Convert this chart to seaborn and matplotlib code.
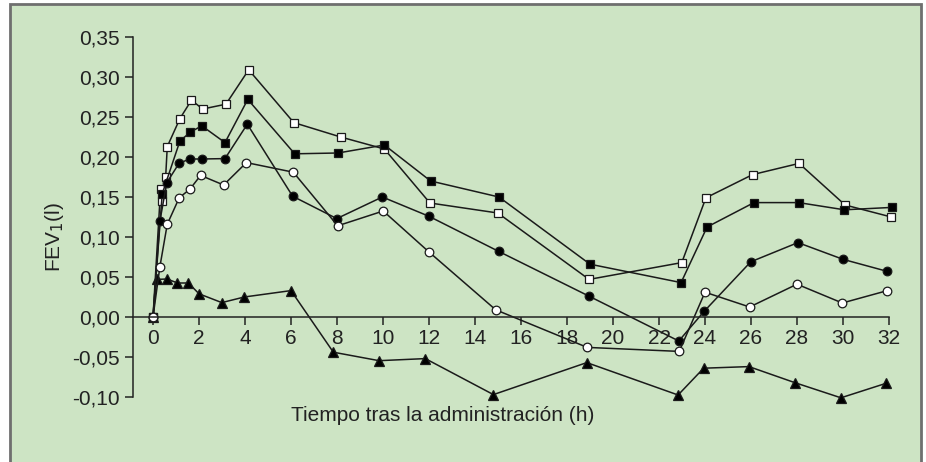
import numpy as np
import pandas as pd
import matplotlib
matplotlib.use("Agg")
from matplotlib import pyplot as plt
from matplotlib.patches import Rectangle
import seaborn as sns

# data (hours, FEV1 change in litres)
x_open_sq = [0, 0.33, 0.38, 0.55, 0.62, 1.17, 1.67, 2.16, 3.17, 4.16, 6.12, 8.16, 10.06, 12.04, 14.99, 18.96, 22.99, 24.04, 26.07, 28.09, 30.09, 32.1]
y_open_sq = [0, 0.160, 0.145, 0.175, 0.213, 0.248, 0.271, 0.260, 0.266, 0.309, 0.243, 0.225, 0.210, 0.1425, 0.130, 0.047, 0.068, 0.149, 0.178, 0.192, 0.140, 0.125]

x_fill_sq = [0, 0.40, 1.17, 1.62, 2.12, 3.13, 4.12, 6.16, 8.04, 10.06, 12.07, 15.04, 19.0, 22.96, 24.09, 26.13, 28.07, 30.06, 32.13]
y_fill_sq = [0, 0.154, 0.220, 0.231, 0.239, 0.218, 0.272, 0.204, 0.205, 0.215, 0.170, 0.150, 0.066, 0.043, 0.1125, 0.143, 0.143, 0.134, 0.137]

x_fill_ci = [0, 0.30, 0.60, 1.13, 1.59, 2.12, 3.13, 4.10, 6.07, 7.99, 9.97, 11.99, 15.03, 18.96, 22.86, 23.96, 25.99, 28.04, 30.01, 31.93]
y_fill_ci = [0, 0.120, 0.168, 0.192, 0.1975, 0.1975, 0.198, 0.241, 0.151, 0.123, 0.150, 0.126, 0.082, 0.026, -0.030, 0.007, 0.069, 0.093, 0.072, 0.057]

x_open_ci = [0, 0.30, 0.62, 1.14, 1.61, 2.07, 3.07, 4.06, 6.10, 8.03, 10.01, 12.01, 14.90, 18.88, 22.88, 24.0, 25.94, 28.0, 29.97, 31.93]
y_open_ci = [0, 0.063, 0.116, 0.149, 0.160, 0.177, 0.165, 0.193, 0.181, 0.114, 0.1325, 0.081, 0.009, -0.038, -0.043, 0.031, 0.0125, 0.041, 0.0175, 0.033]

x_tri = [0, 0.16, 0.62, 1.06, 1.54, 2.0, 2.99, 3.97, 6.0, 7.84, 9.83, 11.84, 14.8, 18.86, 22.83, 23.94, 25.91, 27.9, 29.91, 31.86]
y_tri = [0, 0.047, 0.0475, 0.0425, 0.0425, 0.029, 0.018, 0.025, 0.033, -0.044, -0.0546, -0.052, -0.097, -0.057, -0.0975, -0.064, -0.062, -0.082, -0.101, -0.083]

x_ticks = list(range(0, 33, 2))
y_ticks = [-0.10, -0.05, 0.00, 0.05, 0.10, 0.15, 0.20, 0.25, 0.30, 0.35]

plt.rcParams['font.family'] = ['Liberation Sans', 'DejaVu Sans']
txt = '#222222'
fs = 15

fig = plt.figure(figsize=(9.26, 4.62), dpi=100)
fig.patch.set_facecolor('white')
# green panel with grey border, kept behind the axes
fig.patches.append(Rectangle((10/926, -0.05), 911/926, 1.05 - 4/462, transform=fig.transFigure,
                             facecolor='#cde4c4', edgecolor='#6f6f6f', linewidth=2, zorder=-10))

ax = fig.add_axes([133/926, 1 - 397/462, 756/926, 360/462])
ax.set_facecolor('none')
ax.set_zorder(5)

# triangles first so the circles sit on top at the origin
series = [
    (x_tri, y_tri, '^', 'black', 6.5),
    (x_open_sq, y_open_sq, 's', 'white', 5.2),
    (x_fill_sq, y_fill_sq, 's', 'black', 5.2),
    (x_fill_ci, y_fill_ci, 'o', 'black', 6.2),
    (x_open_ci, y_open_ci, 'o', 'white', 6.2),
]
for xs, ys, mk, fc, ms in series:
    d = pd.DataFrame({'t': xs, 'v': ys})
    sns.lineplot(data=d, x='t', y='v', ax=ax, sort=False, estimator=None,
                 color='#1a1a1a', linewidth=1.1, marker=mk, markersize=ms,
                 markerfacecolor=fc, markeredgecolor='#1a1a1a', markeredgewidth=0.9,
                 clip_on=False)

ax.set_xlim(-0.87, 32)
ax.set_ylim(-0.10, 0.35)
for s in ['top', 'right']:
    ax.spines[s].set_visible(False)
ax.spines['bottom'].set_position(('data', 0))
ax.spines['left'].set_color(txt)
ax.spines['bottom'].set_color(txt)
ax.spines['left'].set_linewidth(1.1)
ax.spines['bottom'].set_linewidth(1.1)

ax.set_xticks(x_ticks)
ax.set_xticklabels([str(t) for t in x_ticks])
ax.set_yticks(y_ticks)
ax.set_yticklabels([f'{v:.2f}'.replace('.', ',') for v in y_ticks])
ax.tick_params(axis='both', direction='out', length=5.5, width=1.1, color=txt,
               labelsize=fs, labelcolor=txt)
ax.tick_params(axis='x', pad=3.5)
ax.tick_params(axis='y', pad=4)

ax.set_xlabel('Tiempo tras la administración (h)', fontsize=fs, color=txt)
ax.xaxis.set_label_coords(0.409, -0.025)
ax.set_ylabel('FEV$_1$(l)', fontsize=fs, color=txt)
ax.yaxis.set_label_coords(-0.088, 0.445)

fig.savefig('out.png', dpi=100)
